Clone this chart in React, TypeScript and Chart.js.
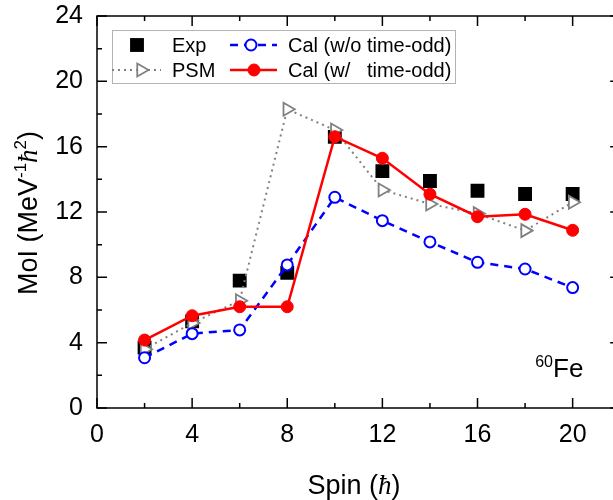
import React, { useEffect, useRef } from 'react';
import { Chart, registerables } from 'chart.js';

Chart.register(...registerables);

const spins = [2, 4, 6, 8, 10, 12, 14, 16, 18, 20];
const expValues = [3.7, 5.3, 7.8, 8.27, 16.6, 14.5, 13.9, 13.3, 13.1, 13.1];
const psmValues = [3.6, 5.2, 6.57, 18.29, 17.02, 13.35, 12.49, 11.9, 10.86, 12.6];
const calWithoutValues = [3.08, 4.55, 4.78, 8.76, 12.9, 11.47, 10.17, 8.92, 8.51, 7.37];
const calWithValues = [4.16, 5.65, 6.2, 6.2, 16.61, 15.29, 13.09, 11.71, 11.86, 10.88];

const seriesLabels = ['Exp', 'PSM', 'Cal (w/o time-odd)', 'Cal (w/   time-odd)'];
const xTickLabels = ['0', '4', '8', '12', '16', '20'];
const yTickLabels = ['0', '4', '8', '12', '16', '20', '24'];
const xMinorStep = 2;
const yMinorStep = 2;

const FONT = '"Liberation Sans", Arial, sans-serif';

const toPoints = (vals: number[]) => vals.map((v, i) => ({ x: spins[i], y: v }));

function drawPointStyle(ctx: CanvasRenderingContext2D, style: string, r: number, x: number, y: number, rotDeg: number) {
  ctx.beginPath();
  if (style === 'rect') {
    const s = Math.SQRT1_2 * r;
    ctx.rect(x - s, y - s, 2 * s, 2 * s);
    ctx.fill();
  } else if (style === 'circle') {
    ctx.arc(x, y, r, 0, Math.PI * 2);
    ctx.closePath();
    ctx.fill();
    ctx.stroke();
  } else if (style === 'triangle') {
    let rad = (rotDeg * Math.PI) / 180;
    ctx.moveTo(x + Math.sin(rad) * r, y - Math.cos(rad) * r);
    rad += (2 * Math.PI) / 3;
    ctx.lineTo(x + Math.sin(rad) * r, y - Math.cos(rad) * r);
    rad += (2 * Math.PI) / 3;
    ctx.lineTo(x + Math.sin(rad) * r, y - Math.cos(rad) * r);
    ctx.closePath();
    ctx.fill();
    ctx.stroke();
  }
}

const framePlugin = {
  id: 'frameTicks',
  beforeDatasetsDraw(chart: any) {
    const { ctx, chartArea, scales } = chart;
    const { left, right, top, bottom } = chartArea;
    ctx.save();
    ctx.strokeStyle = '#000';
    ctx.lineWidth = 1.5;
    ctx.beginPath();
    ctx.rect(left, top, right - left, bottom - top);
    ctx.stroke();
    const xs = scales.x;
    const ys = scales.y;
    for (let v = xs.min; v <= xs.max + 1e-9; v += xMinorStep) {
      const major = v % 4 === 0;
      const len = major ? 10 : 5;
      const px = xs.getPixelForValue(v);
      ctx.beginPath();
      ctx.moveTo(px, bottom);
      ctx.lineTo(px, bottom - len);
      ctx.moveTo(px, top);
      ctx.lineTo(px, top + len);
      ctx.stroke();
    }
    for (let v = ys.min; v <= ys.max + 1e-9; v += yMinorStep) {
      const major = yTickLabels.includes(String(v));
      const len = major ? 10 : 5;
      const py = ys.getPixelForValue(v);
      ctx.beginPath();
      ctx.moveTo(left, py);
      ctx.lineTo(left + len, py);
      ctx.moveTo(right, py);
      ctx.lineTo(right - len, py);
      ctx.stroke();
    }
    ctx.restore();
  },
  afterDraw(chart: any) {
    const { ctx, chartArea } = chart;
    ctx.save();
    ctx.fillStyle = '#000';
    ctx.textBaseline = 'alphabetic';
    ctx.textAlign = 'left';

    type Seg = { t: string; font: string; dy: number };
    const ySegs: Seg[] = [
      { t: 'MoI (MeV', font: `27px ${FONT}`, dy: 0 },
      { t: '-1', font: `17px ${FONT}`, dy: -11 },
      { t: 'ħ', font: `italic 27px "Liberation Serif", serif`, dy: 0 },
      { t: '2', font: `17px ${FONT}`, dy: -11 },
      { t: ')', font: `27px ${FONT}`, dy: 0 },
    ];
    let total = 0;
    ySegs.forEach((s) => { ctx.font = s.font; total += ctx.measureText(s.t).width; });
    const cy = 213;
    ctx.save();
    ctx.translate(37, cy + total / 2);
    ctx.rotate(-Math.PI / 2);
    let x = 0;
    ySegs.forEach((s) => {
      ctx.font = s.font;
      ctx.fillText(s.t, x, s.dy);
      x += ctx.measureText(s.t).width;
    });
    ctx.restore();

    const xSegs: Seg[] = [
      { t: 'Spin (', font: `27px ${FONT}`, dy: 0 },
      { t: 'ħ', font: `italic 27px "Liberation Serif", serif`, dy: 0 },
      { t: ')', font: `27px ${FONT}`, dy: 0 },
    ];
    let tw = 0;
    xSegs.forEach((s) => { ctx.font = s.font; tw += ctx.measureText(s.t).width; });
    let xx = 354 - tw / 2;
    xSegs.forEach((s) => {
      ctx.font = s.font;
      ctx.fillText(s.t, xx, 494 + s.dy);
      xx += ctx.measureText(s.t).width;
    });

    ctx.font = `26px ${FONT}`;
    ctx.fillText('Fe', 553, 377);
    ctx.font = `16px ${FONT}`;
    ctx.textAlign = 'right';
    ctx.fillText('60', 553, 367);
    ctx.textAlign = 'left';

    const lx = 112, ly = 30, lw = 343, lh = 53;
    ctx.fillStyle = '#fff';
    ctx.fillRect(lx, ly, lw, lh);
    ctx.strokeStyle = '#b4b4b4';
    ctx.lineWidth = 1;
    ctx.strokeRect(lx + 0.5, ly + 0.5, lw, lh);

    const ds = chart.data.datasets;
    const items = [
      { ds: ds[3], cx: 137, line: [112, 161], tx: 172, y: 45 },
      { ds: ds[2], cx: 141, line: [112, 161], tx: 172, y: 70 },
      { ds: ds[1], cx: 251, line: [230, 277], tx: 288, y: 45 },
      { ds: ds[0], cx: 254, line: [230, 277], tx: 288, y: 70 },
    ];
    items.forEach((it) => {
      const d = it.ds;
      if (d.showLine !== false) {
        ctx.save();
        ctx.strokeStyle = d.borderColor;
        ctx.lineWidth = d.borderWidth;
        ctx.setLineDash(d.borderDash || []);
        ctx.beginPath();
        ctx.moveTo(it.line[0], it.y);
        ctx.lineTo(it.line[1], it.y);
        ctx.stroke();
        ctx.restore();
      }
      ctx.save();
      ctx.setLineDash([]);
      ctx.strokeStyle = d.pointBorderColor;
      ctx.fillStyle = d.pointBackgroundColor;
      ctx.lineWidth = d.pointBorderWidth;
      drawPointStyle(ctx, d.pointStyle, d.pointRadius, it.cx, it.y, d.pointRotation || 0);
      ctx.restore();
      ctx.fillStyle = '#000';
      ctx.font = `20px ${FONT}`;
      ctx.textBaseline = 'middle';
      ctx.fillText(d.label, it.tx, it.y + 1);
    });
    ctx.restore();
  },
};

export default function App() {
  const ref = useRef<HTMLCanvasElement | null>(null);
  useEffect(() => {
    if (!ref.current) return;
    const chart = new Chart(ref.current, {
      type: 'line',
      data: {
        datasets: [
          {
            label: seriesLabels[3],
            data: toPoints(calWithValues),
            borderColor: '#ff0000',
            backgroundColor: '#ff0000',
            borderWidth: 2.5,
            pointStyle: 'circle',
            pointRadius: 6,
            pointBackgroundColor: '#ff0000',
            pointBorderColor: '#ff0000',
            pointBorderWidth: 1,
            order: 0,
          },
          {
            label: seriesLabels[2],
            data: toPoints(calWithoutValues),
            borderColor: '#0000ff',
            borderWidth: 2.5,
            borderDash: [8, 6],
            pointStyle: 'circle',
            pointRadius: 5.5,
            pointBackgroundColor: '#ffffff',
            pointBorderColor: '#0000ff',
            pointBorderWidth: 2,
            order: 1,
          },
          {
            label: seriesLabels[1],
            data: toPoints(psmValues),
            borderColor: '#808080',
            borderWidth: 2,
            borderDash: [2, 4],
            pointStyle: 'triangle',
            pointRotation: 90,
            pointRadius: 7.5,
            pointBackgroundColor: '#ffffff',
            pointBorderColor: '#808080',
            pointBorderWidth: 1.8,
            order: 2,
          },
          {
            label: seriesLabels[0],
            data: toPoints(expValues),
            showLine: false,
            borderColor: '#000000',
            borderWidth: 0,
            pointStyle: 'rect',
            pointRadius: 9.8,
            pointBackgroundColor: '#000000',
            pointBorderColor: '#000000',
            pointBorderWidth: 0,
            order: 3,
          },
        ] as any,
      },
      options: {
        animation: false,
        responsive: false,
        maintainAspectRatio: false,
        layout: { padding: { left: 0, top: 16, right: 9.4, bottom: 0 } },
        plugins: { legend: { display: false }, tooltip: { enabled: false } },
        elements: { line: { tension: 0 } },
        scales: {
          x: {
            type: 'linear',
            min: 0,
            max: 22,
            grid: { display: false, drawTicks: false },
            border: { display: false },
            ticks: {
              stepSize: 4,
              includeBounds: false,
              padding: 12,
              color: '#000',
              maxRotation: 0,
              font: { family: FONT, size: 25 },
              callback: (v: any) => (xTickLabels.includes(String(v)) ? String(v) : ''),
            },
            afterFit: (s: any) => { s.height = 92; s.paddingLeft = 0; s.paddingRight = 0; },
          },
          y: {
            type: 'linear',
            min: 0,
            max: 24,
            grid: { display: false, drawTicks: false },
            border: { display: false },
            ticks: {
              stepSize: 4,
              padding: 14,
              color: '#000',
              font: { family: FONT, size: 25 },
              callback: (v: any) => (yTickLabels.includes(String(v)) ? String(v) : ''),
            },
            afterFit: (s: any) => { s.width = 97; s.paddingTop = 0; s.paddingBottom = 0; },
          },
        },
      } as any,
      plugins: [framePlugin],
    });
    return () => chart.destroy();
  }, []);
  return (
    <div style={{ position: 'fixed', left: 0, top: 0, width: 613, height: 500, overflow: 'hidden', background: '#fff' }}>
      <canvas ref={ref} width={630} height={500} style={{ display: 'block', width: 630, height: 500 }} />
    </div>
  );
}
